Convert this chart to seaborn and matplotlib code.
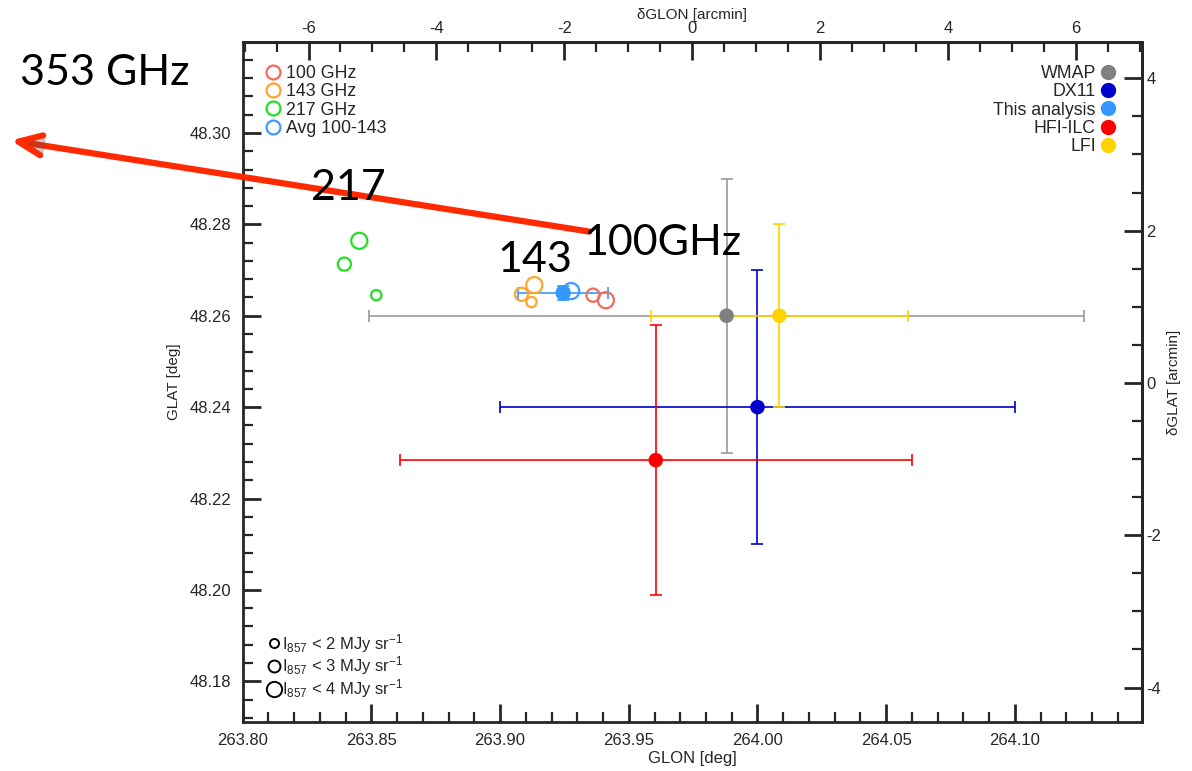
import numpy as np
import pandas as pd
import matplotlib
matplotlib.use('Agg')
import matplotlib.pyplot as plt
import matplotlib.patheffects as pe
from matplotlib.lines import Line2D
from matplotlib.ticker import MultipleLocator, FixedLocator
import seaborn as sns

# open circles: single-band centroids, size = I857 cut (2, 3, 4 MJy/sr)
glon_100 = [263.9361, 263.9411]
glat_100 = [48.2645, 48.2634]
cut_100 = [3, 4]
glon_143 = [263.9133, 263.9083, 263.9122]
glat_143 = [48.2667, 48.2647, 48.2630]
cut_143 = [4, 3, 2]
glon_217 = [263.8453, 263.8395, 263.8519]
glat_217 = [48.2764, 48.2713, 48.2645]
cut_217 = [4, 3, 2]
glon_avg = [263.9245, 263.9276]
glat_avg = [48.2650, 48.2654]
cut_avg = [3, 4]

# filled points with error bars
sol_names = ['WMAP', 'DX11', 'This analysis', 'HFI-ILC', 'LFI']
sol_glon = [263.988, 264.000, 263.9245, 263.9605, 264.0085]
sol_glat = [48.260, 48.240, 48.2650, 48.2284, 48.260]
sol_xerr = [0.139, 0.100, 0.0175, 0.0995, 0.050]
sol_yerr = [0.030, 0.030, 0.0016, 0.0296, 0.020]

band_labels = ['100 GHz', '143 GHz', '217 GHz', 'Avg 100-143']
band_colors = ['#F26B5B', '#FFA62B', '#22E022', '#3D9BFF']
sol_colors = ['#808080', '#0000CC', '#3399FF', '#FF0000', '#FFD200']
bar_colors = ['#999999', '#0000CC', '#3399FF', '#FF0000', '#FFD200']
cut_labels = [r'I$_{857}$ < 2 MJy sr$^{-1}$', r'I$_{857}$ < 3 MJy sr$^{-1}$',
              r'I$_{857}$ < 4 MJy sr$^{-1}$']

glon_ticks = [263.80, 263.85, 263.90, 263.95, 264.00, 264.05, 264.10]
glat_ticks = [48.18, 48.20, 48.22, 48.24, 48.26, 48.28, 48.30]
dglon_ticks = [-6, -4, -2, 0, 2, 4, 6]
dglat_ticks = [-4, -2, 0, 2, 4]

sns.set_theme(style='ticks')
plt.rcParams['font.family'] = ['Liberation Sans', 'DejaVu Sans']
plt.rcParams['mathtext.fontset'] = 'custom'
plt.rcParams['mathtext.rm'] = 'Liberation Sans'
plt.rcParams['mathtext.it'] = 'Liberation Sans'
plt.rcParams['axes.unicode_minus'] = False

fig = plt.figure(figsize=(11.92, 7.71), dpi=100)
ax = fig.add_axes([0.2036, 0.0636, 0.7547, 0.8819])

for i in range(len(sol_names)):
    ax.errorbar(sol_glon[i], sol_glat[i], xerr=sol_xerr[i], yerr=sol_yerr[i],
                fmt='none', ecolor=bar_colors[i], elinewidth=1.2, capsize=4,
                capthick=1.2, zorder=2)

bands = pd.DataFrame({
    'glon': glon_100 + glon_143 + glon_217 + glon_avg,
    'glat': glat_100 + glat_143 + glat_217 + glat_avg,
    'cut': cut_100 + cut_143 + cut_217 + cut_avg,
    'band': [band_labels[0]] * 2 + [band_labels[1]] * 3 + [band_labels[2]] * 3 + [band_labels[3]] * 2,
})
sns.scatterplot(data=bands, x='glon', y='glat', hue='band', size='cut',
                sizes={2: 55, 3: 90, 4: 135}, palette=dict(zip(band_labels, band_colors)),
                hue_order=band_labels, linewidth=1.6, legend=False, ax=ax, zorder=3)
pts = ax.collections[-1]
pts.set_edgecolors(pts.get_facecolors())
pts.set_facecolors('none')

sols = pd.DataFrame({'glon': sol_glon, 'glat': sol_glat, 'name': sol_names})
sns.scatterplot(data=sols, x='glon', y='glat', hue='name', palette=dict(zip(sol_names, sol_colors)),
                s=110, linewidth=0, legend=False, ax=ax, zorder=4)

ax.set_xlim(263.80, 264.1495)
ax.set_ylim(48.1711, 48.3199)
ax.xaxis.set_major_locator(FixedLocator(glon_ticks))
ax.xaxis.set_minor_locator(MultipleLocator(0.01))
ax.yaxis.set_major_locator(FixedLocator(glat_ticks))
ax.yaxis.set_minor_locator(MultipleLocator(0.004))
ax.xaxis.set_major_formatter(lambda v, p: f'{v:.2f}')
ax.yaxis.set_major_formatter(lambda v, p: f'{v:.2f}')
ax.set_xlabel('GLON [deg]', fontsize=12, labelpad=2)
ax.set_ylabel('GLAT [deg]', fontsize=11, labelpad=6)
ax.tick_params(which='both', direction='in', top=False, right=False, labelsize=12, width=2)
ax.tick_params(which='major', length=13, pad=8)
ax.tick_params(which='minor', length=7, width=1.6)
for s in ax.spines.values():
    s.set_linewidth(2)

gl0, glk = 263.9746, 40.26
top = ax.secondary_xaxis('top', functions=(lambda x: (x - gl0) * glk, lambda d: d / glk + gl0))
top.xaxis.set_major_locator(FixedLocator(dglon_ticks))
top.xaxis.set_minor_locator(MultipleLocator(0.5))
top.xaxis.set_major_formatter(lambda v, p: f'{v:.0f}')
top.tick_params(which='both', direction='in', labelsize=12, width=2)
top.tick_params(which='major', length=13, pad=4)
top.tick_params(which='minor', length=7, width=1.6)
top.set_xlabel('δGLON [arcmin]', fontsize=11, labelpad=2)

gb0 = 48.2453
right = ax.secondary_yaxis('right', functions=(lambda y: (y - gb0) * 60, lambda d: d / 60 + gb0))
right.yaxis.set_major_locator(FixedLocator(dglat_ticks))
right.yaxis.set_minor_locator(MultipleLocator(0.5))
right.yaxis.set_major_formatter(lambda v, p: f'{v:.0f}')
right.tick_params(which='both', direction='in', labelsize=12, width=2)
right.tick_params(which='major', length=13, pad=3)
right.tick_params(which='minor', length=7, width=1.6)
right.set_ylabel('δGLAT [arcmin]', fontsize=11, labelpad=4)
for s in list(top.spines.values()) + list(right.spines.values()):
    s.set_linewidth(2)

h1 = [Line2D([], [], marker='o', ls='none', mfc='none', mec=c, mew=1.6, ms=10) for c in band_colors]
leg1 = ax.legend(h1, band_labels, loc='upper left', bbox_to_anchor=(0.018, 0.977), frameon=False,
                 fontsize=12.8, handlelength=0.8, handletextpad=0.3, labelspacing=0.08, borderaxespad=0)
ax.add_artist(leg1)
h2 = [Line2D([], [], marker='o', ls='none', mfc=c, mec=c, ms=10) for c in sol_colors]
leg2 = ax.legend(h2, sol_names, loc='upper right', bbox_to_anchor=(0.978, 0.977), frameon=False,
                 fontsize=12.8, handlelength=0.8, handletextpad=0.3, labelspacing=0.08, borderaxespad=0,
                 markerfirst=False)
ax.add_artist(leg2)
h3 = [Line2D([], [], marker='o', ls='none', mfc='none', mec='black', mew=1.4, ms=m) for m in (6.5, 8.6, 11)]
ax.legend(h3, cut_labels, loc='lower left', bbox_to_anchor=(0.02, 0.022), frameon=False,
          fontsize=12, handlelength=0.8, handletextpad=0.05, labelspacing=0.0, borderaxespad=0)

# slide annotations
big = dict(family=['Lato', 'DejaVu Sans'], fontsize=31, color='black', va='center')
fig.text(20 / 1192, 1 - 73 / 771, '353 GHz', ha='left', **big)
fig.text(348 / 1192, 1 - 188 / 771, '217', ha='center', **big)
fig.text(535 / 1192, 1 - 260 / 771, '143', ha='center', **big)
fig.text(583 / 1192, 1 - 243 / 771, '100GHz', ha='left', **big)
arr = ax.annotate('', xy=(8 / 1192, 1 - 140 / 771), xytext=(592 / 1192, 1 - 232 / 771),
                  xycoords='figure fraction', textcoords='figure fraction',
                  arrowprops=dict(arrowstyle='->,head_length=1.4,head_width=0.6', color='#FF2A00', lw=4.5))
arr.arrow_patch.set_path_effects([pe.SimplePatchShadow(offset=(2, -2), alpha=0.3), pe.Normal()])

fig.savefig('out.png', dpi=100)
